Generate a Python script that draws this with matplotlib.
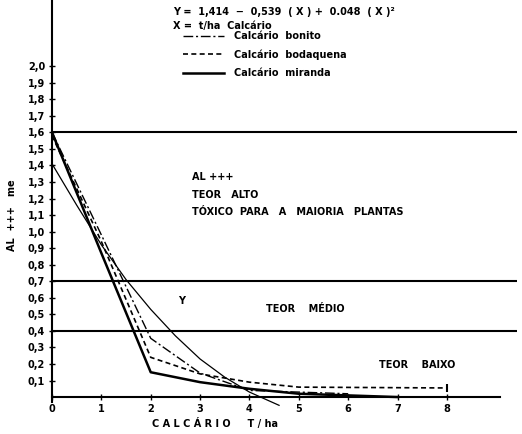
import numpy as np
import matplotlib.pyplot as plt
from matplotlib import rcParams

rcParams['font.family'] = ['DejaVu Sans']
rcParams['font.weight'] = 'bold'
rcParams['font.size'] = 7

# dados (t/ha de calcario vs AL+++ me)
x_bonito = [0, 1, 2, 3, 4, 5, 6]
y_bonito = [1.60, 0.98, 0.355, 0.145, 0.04, 0.03, 0.02]

x_bodaquena = [0, 1, 2, 3, 4, 5, 8]
y_bodaquena = [1.58, 0.94, 0.24, 0.14, 0.09, 0.06, 0.055]

x_miranda = [0, 1, 2, 3, 4, 5, 6, 7]
y_miranda = [1.60, 0.87, 0.15, 0.09, 0.05, 0.02, 0.01, 0.0]

# curva ajustada Y (lida ponto a ponto)
x_eq = [0, 0.5, 1, 1.5, 2, 2.5, 3, 3.5, 4, 4.6]
y_eq = [1.41, 1.16, 0.92, 0.71, 0.53, 0.37, 0.23, 0.12, 0.03, -0.05]

limites = [1.6, 0.7, 0.4]
yticks = [0.1, 0.2, 0.3, 0.4, 0.5, 0.6, 0.7, 0.8, 0.9, 1.0,
          1.1, 1.2, 1.3, 1.4, 1.5, 1.6, 1.7, 1.8, 1.9, 2.0]
xticks = [0, 1, 2, 3, 4, 5, 6, 7, 8]

fig = plt.figure(figsize=(5.22, 4.34), dpi=100)
ax = fig.add_axes([52/522, (434-413.6)/434, (517-52)/522, 413.6/434])

ax.set_xlim(0, 9.42)
ax.set_ylim(-0.1, 2.4)

ax.plot(x_bonito, y_bonito, color='black', lw=1.0, ls=(0, (7, 2, 1.5, 2)), label='Calcário  bonito')
ax.plot(x_bodaquena, y_bodaquena, color='black', lw=1.2, ls=(0, (3, 2)), label='Calcário  bodaquena')
# marca no fim da serie bodaquena
ax.plot(x_bodaquena[-1:], y_bodaquena[-1:], color='black', marker='|', ms=6, mew=1.5, ls='none')
ax.plot(x_miranda, y_miranda, color='black', lw=1.8, label='Calcário  miranda')
ax.plot(x_eq, y_eq, color='black', lw=0.9)

for v in limites:
    ax.hlines(v, 0, 9.42, color='black', lw=1.5)

# eixos
for s in ['top', 'right']:
    ax.spines[s].set_visible(False)
ax.spines['bottom'].set_position(('data', 0))
ax.spines['bottom'].set_bounds(0, 9.07)
ax.spines['left'].set_bounds(-0.03, 2.4)
ax.spines['bottom'].set_linewidth(1.5)
ax.spines['left'].set_linewidth(1.5)

ax.set_yticks(yticks)
ax.set_yticklabels([('%.1f' % t).replace('.', ',') for t in yticks])
ax.set_xticks(xticks)
ax.set_xticklabels([str(t) for t in xticks])
ax.tick_params(direction='inout', length=4, width=1, pad=3)

ax.text(-0.82, 1.1, 'AL  +++   me', rotation=90, ha='center', va='center', fontsize=7)
ax.text(3.3, -0.16, 'C A L C Á R I O     T / ha', ha='center', va='center', fontsize=7)

ax.text(2.45, 2.33, 'Y =  1,414  −  0,539  ( X ) +  0.048  ( X )²', va='center', fontsize=7)
ax.text(2.45, 2.24, 'X =  t/ha  Calcário', va='center', fontsize=7)

ax.legend(loc='upper left', bbox_to_anchor=(0.282, 0.925), frameon=False,
          handlelength=4.2, handletextpad=1.0, labelspacing=0.85, borderpad=0, borderaxespad=0)

ax.text(2.83, 1.33, 'AL +++', va='center', fontsize=7)
ax.text(2.83, 1.22, 'TEOR   ALTO', va='center', fontsize=7)
ax.text(2.83, 1.12, 'TÓXICO  PARA   A   MAIORIA   PLANTAS', va='center', fontsize=7)
ax.text(4.33, 0.53, 'TEOR    MÉDIO', va='center', fontsize=7)
ax.text(6.63, 0.195, 'TEOR    BAIXO', va='center', fontsize=7)
ax.text(2.55, 0.58, 'Y', va='center', fontsize=7)

plt.savefig('out.png', dpi=100)
